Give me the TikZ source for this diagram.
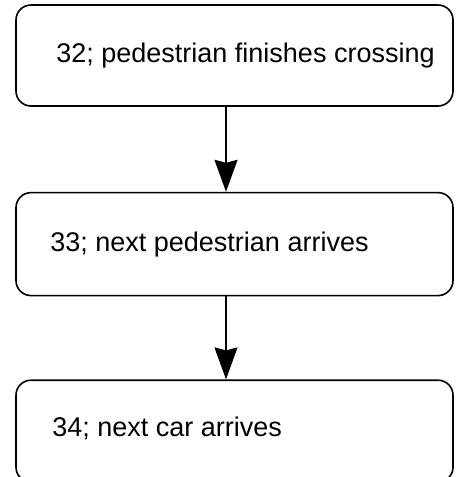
\documentclass[tikz,border=0pt]{standalone}
\usepackage{fontspec}
\setmainfont{Liberation Sans}
\usetikzlibrary{arrows.meta, positioning}
\tikzset{
  box/.style={draw=black, line width=1.6pt, rounded corners=15pt, minimum width=437pt, inner sep=0pt},
  lbl/.style={inner sep=0pt, font=\fontsize{27}{32}\selectfont, anchor=west},
  arr/.style={-{Stealth[length=32pt, width=23pt, inset=3pt]}, line width=1.6pt, black}
}
\begin{document}
\begin{tikzpicture}
  \useasboundingbox (0,0) rectangle (456pt,-477pt);
  \node[box, minimum height=101pt] (crossing) at (234.5pt,-55.5pt) {};
  \node[box, minimum height=103pt, below=85pt of crossing] (pedestrian) {};
  \node[box, minimum height=102pt, below=83pt of pedestrian] (car) {};
  \node[lbl] (tcrossing) at ([xshift=41pt]crossing.west) {32; pedestrian finishes crossing};
  \node[lbl] (tpedestrian) at ([xshift=35pt]pedestrian.west) {33; next pedestrian arrives};
  \node[lbl] (tcar) at ([xshift=37pt,yshift=3pt]car.west) {34; next car arrives};
  \draw[arr] ([xshift=-8.5pt]crossing.south) -- ([xshift=-8.5pt]pedestrian.north);
  \draw[arr] ([xshift=-8.5pt]pedestrian.south) -- ([xshift=-8.5pt]car.north);
\end{tikzpicture}
\end{document}
